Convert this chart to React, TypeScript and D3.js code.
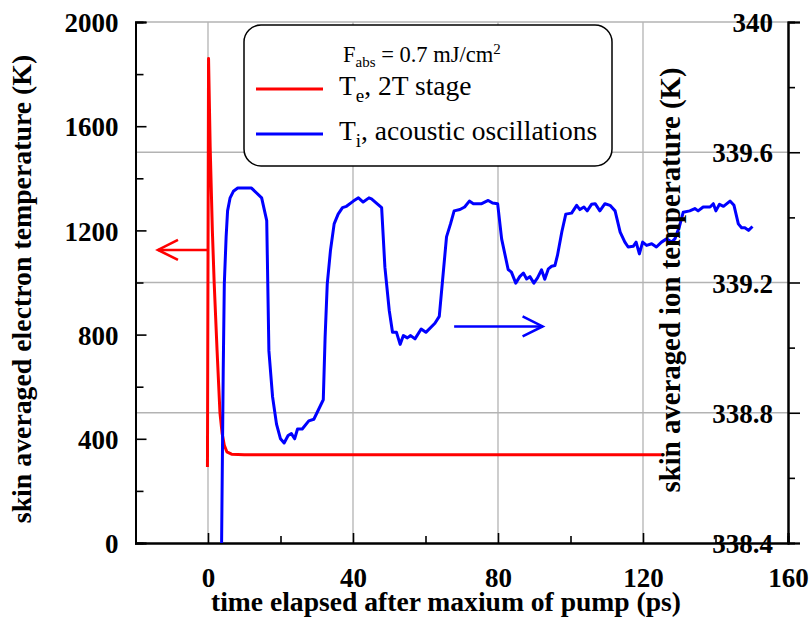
import React, { useEffect, useRef } from 'react';
import * as d3 from 'd3';

// electron temperature, 2T stage (left axis, K)
const teTime = [-0.15, 0.15, 0.6, 1.2, 1.7, 2.5, 3.3, 3.9, 4.5, 5.2, 6.5, 10, 40, 80, 125.5];
const teValue = [292, 1860, 1520, 1200, 1000, 740, 500, 420, 375, 350, 341, 339, 339, 339, 339];

// ion temperature, acoustic oscillations (right axis, K)
const tiTime = [
  3.75, 4.2, 4.5, 5.0, 5.4, 6.1, 7.0, 8.2, 12.0, 14.8, 16.2, 16.8, 17.8, 18.9, 20.0, 21.0, 22.1, 23.0,
  23.9, 24.7, 26.0, 27.8, 29.2, 31.8, 32.3, 32.9, 33.8, 34.8, 35.9, 37.1, 38.2, 40.1, 41.5, 42.8, 44.4,
  45.1, 47.9, 48.8, 50.0, 50.9, 52.0, 53.0, 53.9, 55.0, 55.9, 57.1, 58.8, 60.1, 62.6, 63.8, 64.7, 65.8,
  66.9, 67.9, 69.5, 70.8, 72.1, 73.2, 75.5, 77.3, 78.5, 79.9, 81.0, 82.8, 83.7, 84.9, 86.0, 87.0, 87.9,
  88.8, 89.9, 90.9, 92.0, 92.9, 93.9, 94.8, 95.7, 96.4, 97.6, 98.7, 100.3, 101.7, 102.6, 103.7, 104.6,
  105.8, 106.8, 108.1, 109.5, 110.9, 112.3, 113.7, 115.0, 115.9, 117.3, 118.1, 119.0, 119.9, 121.0,
  122.4, 123.7, 125.1, 126.5, 127.9, 128.8, 130.0, 131.1, 132.9, 134.3, 135.2, 136.6, 138.5, 139.4,
  140.1, 141.1, 142.2, 144.0, 145.1, 146.3, 147.2, 148.1, 149.1, 150.2,
];
const tiValue = [
  338.4, 338.93, 339.196, 339.34, 339.42, 339.46, 339.48, 339.49, 339.49, 339.46, 339.39, 338.99,
  338.85, 338.765, 338.72, 338.707, 338.73, 338.736, 338.72, 338.75, 338.75, 338.775, 338.78, 338.84,
  339.03, 339.196, 339.3, 339.38, 339.41, 339.43, 339.434, 339.45, 339.46, 339.447, 339.46, 339.457,
  339.43, 339.247, 339.114, 339.047, 339.047, 339.01, 339.037, 339.03, 339.037, 339.027, 339.057,
  339.047, 339.075, 339.096, 339.206, 339.34, 339.38, 339.42, 339.424, 339.432, 339.45, 339.442,
  339.442, 339.452, 339.444, 339.442, 339.334, 339.24, 339.232, 339.198, 339.218, 339.229, 339.211,
  339.218, 339.198, 339.214, 339.239, 339.21, 339.242, 339.25, 339.252, 339.283, 339.355, 339.41,
  339.413, 339.437, 339.424, 339.432, 339.42, 339.44, 339.442, 339.42, 339.442, 339.437, 339.42,
  339.355, 339.324, 339.309, 339.311, 339.324, 339.288, 339.324, 339.314, 339.319, 339.309, 339.324,
  339.334, 339.324, 339.334, 339.37, 339.416, 339.42, 339.427, 339.42, 339.432, 339.432, 339.442,
  339.42, 339.44, 339.434, 339.45, 339.437, 339.38, 339.368, 339.368, 339.36, 339.372,
];

const xTicks = [0, 40, 80, 120, 160];
const xMinorTicks = [-20, 20, 60, 100, 140];
const leftTicks = [0, 400, 800, 1200, 1600, 2000];
const leftMinorTicks = [200, 600, 1000, 1400, 1800];
const rightTicks = [338.4, 338.8, 339.2, 339.6, 340];
const rightTickLabels = ['338.4', '338.8', '339.2', '339.6', '340'];
const rightMinorTicks = [338.6, 339.0, 339.4, 339.8];
const gridTimes = [0, 40, 80, 120];

const FONT = '"Liberation Serif", "Times New Roman", serif';

const App = () => {
  const ref = useRef<SVGSVGElement>(null);

  useEffect(() => {
    const svg = d3.select(ref.current);
    svg.selectAll('*').remove();

    const x = d3.scaleLinear().domain([-20, 160]).range([135.5, 788]);
    const yL = d3.scaleLinear().domain([0, 2000]).range([543, 22]);
    const yR = d3.scaleLinear().domain([338.4, 340]).range([543, 22]);

    const grid = svg.append('g').attr('stroke', '#b3b3b3').attr('stroke-width', 1.3);
    gridTimes.forEach((t) => {
      grid.append('line').attr('x1', x(t)).attr('x2', x(t)).attr('y1', 22).attr('y2', 543);
    });
    rightTicks.slice(1).forEach((v) => {
      grid.append('line').attr('x1', 135.5).attr('x2', 788).attr('y1', yR(v)).attr('y2', yR(v));
    });

    // left axis, ticks point inward
    const left = svg.append('g').attr('transform', 'translate(135.5,0)');
    left.call(d3.axisLeft(yL).tickValues(leftTicks).tickSize(-11).tickPadding(17).tickFormat(d3.format('d')));
    left.append('g').call(d3.axisLeft(yL).tickValues(leftMinorTicks).tickSize(-8).tickFormat(() => ''));

    // bottom axis
    const bottom = svg.append('g').attr('transform', 'translate(0,543)');
    bottom.call(d3.axisBottom(x).tickValues(xTicks).tickSize(-10).tickPadding(25).tickFormat(d3.format('d')));
    bottom.append('g').call(d3.axisBottom(x).tickValues(xMinorTicks).tickSize(-7).tickFormat(() => ''));

    // right axis, ticks outward, labels drawn inside the plot
    const right = svg.append('g').attr('transform', 'translate(788,0)');
    right.call(d3.axisRight(yR).tickValues(rightTicks).tickSize(12).tickFormat(() => ''));
    right.append('g').call(d3.axisRight(yR).tickValues(rightMinorTicks).tickSize(7).tickFormat(() => ''));
    rightTicks.forEach((v, i) => {
      svg.append('text').attr('x', 773).attr('y', yR(v) + 10)
        .attr('text-anchor', 'end').attr('font-weight', 'bold').attr('font-size', 27)
        .attr('font-family', FONT).text(rightTickLabels[i]);
    });

    svg.selectAll('.domain').attr('stroke', '#000').attr('stroke-width', 2);
    svg.selectAll('.tick line').attr('stroke', '#000').attr('stroke-width', 1.6);
    svg.selectAll('.tick text').attr('font-family', FONT).attr('font-size', 27)
      .attr('font-weight', 'bold').attr('fill', '#000');
    left.selectAll('.tick text').attr('dy', '0.36em');

    // clip curves to the frame
    svg.append('clipPath').attr('id', 'frame').append('rect')
      .attr('x', 135.5).attr('y', 22).attr('width', 788 - 135.5).attr('height', 543 - 22);

    const teLine = d3.line<number>().x((d, i) => x(teTime[i])).y((d) => yL(d));
    const tiLine = d3.line<number>().x((d, i) => x(tiTime[i])).y((d) => yR(d));

    svg.append('path').attr('d', teLine(teValue)).attr('fill', 'none').attr('stroke', '#ff0000')
      .attr('stroke-width', 3).attr('stroke-linejoin', 'round').attr('clip-path', 'url(#frame)');
    svg.append('circle').attr('cx', x(teTime[teTime.length - 1])).attr('cy', yL(teValue[teValue.length - 1]))
      .attr('r', 1.8).attr('fill', '#000');
    svg.append('path').attr('d', tiLine(tiValue)).attr('fill', 'none').attr('stroke', '#0000ff')
      .attr('stroke-width', 3).attr('stroke-linejoin', 'round').attr('clip-path', 'url(#frame)');

    // axis arrows
    const arrow = (x0: number, x1: number, y: number, color: string) => {
      const dir = x1 > x0 ? -1 : 1;
      const g = svg.append('g').attr('stroke', color).attr('stroke-width', 2.6).attr('fill', 'none');
      g.append('line').attr('x1', x0).attr('x2', x1).attr('y1', y).attr('y2', y);
      g.append('path').attr('d', `M${x1 + dir * 20},${y - 10}L${x1},${y}L${x1 + dir * 20},${y + 10}`);
    };
    arrow(x(0), x(-13.8), yL(1125), '#ff0000');
    arrow(x(67.9), x(92.3), yR(339.065), '#0000ff');

    // legend
    const lg = svg.append('g').attr('font-family', FONT);
    lg.append('rect').attr('x', 244).attr('y', 25).attr('width', 368).attr('height', 141).attr('rx', 17)
      .attr('fill', '#fff').attr('stroke', '#000').attr('stroke-width', 1.5);
    const f = lg.append('text').attr('x', 343).attr('y', 62).attr('font-size', 22.5);
    f.append('tspan').text('F');
    f.append('tspan').attr('font-size', 15).attr('dy', 5).text('abs');
    f.append('tspan').attr('dy', -5).text(' = 0.7 mJ/cm');
    f.append('tspan').attr('font-size', 15).attr('dy', -8).text('2');

    const items = [
      { color: '#ff0000', y: 89, sub: 'e', rest: ', 2T stage' },
      { color: '#0000ff', y: 134, sub: 'i', rest: ', acoustic oscillations' },
    ];
    items.forEach((it) => {
      lg.append('line').attr('x1', 256).attr('x2', 323).attr('y1', it.y).attr('y2', it.y)
        .attr('stroke', it.color).attr('stroke-width', 3);
      const t = lg.append('text').attr('x', 339).attr('y', it.y + 6).attr('font-size', 27.5);
      t.append('tspan').text('T');
      t.append('tspan').attr('font-size', 19).attr('dy', 7).text(it.sub);
      t.append('tspan').attr('dy', -7).text(it.rest);
    });

    // axis titles
    const title = (tx: number, ty: number, rot: number, size: number, s: string) => {
      svg.append('text').attr('transform', `translate(${tx},${ty}) rotate(${rot})`)
        .attr('text-anchor', 'middle').attr('font-family', FONT).attr('font-weight', 'bold')
        .attr('font-size', size).text(s);
    };
    title(31, 289, -90, 27.8, 'skin averaged electron temperature (K)');
    title(680, 280, -90, 28.8, 'skin averaged ion temperature (K)');
    title(446, 611, 0, 27.6, 'time elapsed after maxium of pump (ps)');
  }, []);

  return (
    <svg
      ref={ref}
      width={811}
      height={621}
      style={{ position: 'absolute', left: 0, top: 0, background: '#fff' }}
    />
  );
};

export default App;
